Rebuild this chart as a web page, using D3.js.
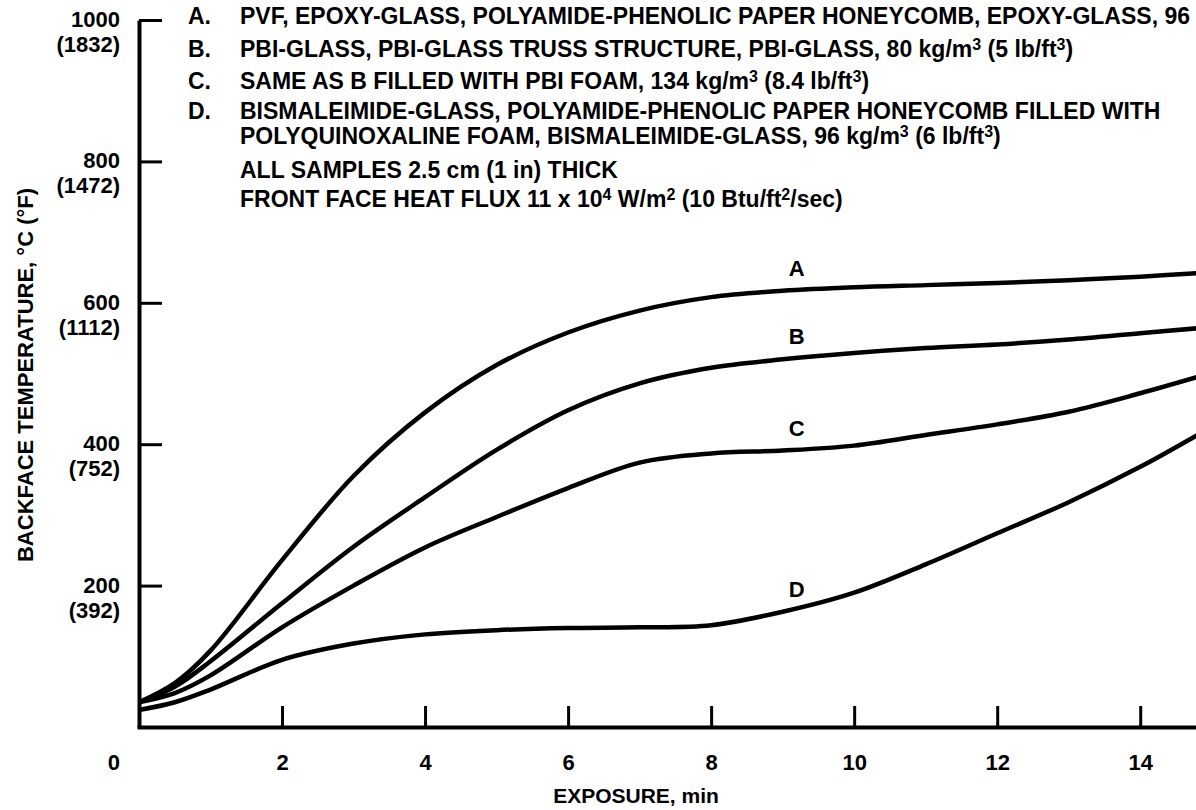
<!DOCTYPE html>
<html>
<head>
<meta charset="utf-8">
<script src="https://cdn.jsdelivr.net/npm/d3@7"></script>
<style>
  body { margin: 0; background: #fff; }
  svg { display: block; font-family: 'Liberation Sans', Arial, sans-serif; font-weight: bold; }
</style>
</head>
<body>
<svg></svg>
<script>
// exposure time, min
const minutes = [0, 0.5, 1, 2, 3, 4, 5, 6, 7, 8, 9, 10, 11, 12, 13, 14, 14.8]

// backface temperature, deg C
const seriesA = [35, 62, 108, 236, 355, 445, 512, 558, 589, 608, 617, 622, 625, 628, 632, 637, 642]
const seriesB = [35, 57, 93, 175, 255, 325, 392, 448, 486, 508, 520, 529, 536, 541, 548, 557, 564]
const seriesC = [35, 48, 73, 141, 200, 254, 297, 338, 374, 387, 391, 398, 413, 428, 446, 472, 495]
const seriesD = [24, 35, 53, 95, 118, 131, 137, 140, 141, 144, 163, 190, 230, 274, 318, 368, 413]
const seriesNames = ['A', 'B', 'C', 'D']

const yTicksC = [200, 400, 600, 800, 1000]
const yTicksF = ['(392)', '(752)', '(1112)', '(1472)', '(1832)']
const xTicks = [2, 4, 6, 8, 10, 12, 14]

const legendKeys = ['A.', 'B.', 'C.', 'D.', '', '', '']
const legendText = [
  'PVF, EPOXY-GLASS, POLYAMIDE-PHENOLIC PAPER HONEYCOMB, EPOXY-GLASS, 96 kg/m^3 (6 lb/ft^3)',
  'PBI-GLASS, PBI-GLASS TRUSS STRUCTURE, PBI-GLASS, 80 kg/m^3 (5 lb/ft^3)',
  'SAME AS B FILLED WITH PBI FOAM, 134 kg/m^3 (8.4 lb/ft^3)',
  'BISMALEIMIDE-GLASS, POLYAMIDE-PHENOLIC PAPER HONEYCOMB FILLED WITH',
  'POLYQUINOXALINE FOAM, BISMALEIMIDE-GLASS, 96 kg/m^3 (6 lb/ft^3)',
  'ALL SAMPLES 2.5 cm (1 in) THICK',
  'FRONT FACE HEAT FLUX 11 x 10^4 W/m^2 (10 Btu/ft^2/sec)'
]

const width = 1196
const height = 810

const svg = d3.select('svg')
  .attr('width', width)
  .attr('height', height)

const x = d3.scaleLinear().domain([0, 14.78]).range([139, 1196])
const y = d3.scaleLinear().domain([0, 1000]).range([727, 20])

// y axis, ticks pointing inward
svg.append('g')
  .attr('transform', 'translate(139, 0)')
  .call(d3.axisLeft(y).tickValues(yTicksC).tickSize(-23).tickSizeOuter(0).tickFormat(''))
  .call(g => g.select('.domain').attr('stroke-width', 4))
  .call(g => g.selectAll('.tick line').attr('stroke-width', 3))

svg.selectAll('.ylab')
  .data(yTicksC)
  .enter().append('text')
  .attr('class', 'ylab')
  .attr('x', 120)
  .attr('y', d => y(d) + 7)
  .attr('text-anchor', 'end')
  .attr('font-size', 22)
  .text(d => d)

svg.selectAll('.ylabf')
  .data(yTicksF)
  .enter().append('text')
  .attr('class', 'ylabf')
  .attr('x', 120)
  .attr('y', (d, i) => y(yTicksC[i]) + 32)
  .attr('text-anchor', 'end')
  .attr('font-size', 22)
  .text(d => d)

// x axis
svg.append('g')
  .attr('transform', 'translate(0, 727)')
  .call(d3.axisBottom(x).tickValues(xTicks).tickSize(-21).tickSizeOuter(0))
  .call(g => g.select('.domain').attr('stroke-width', 4).attr('stroke-linecap', 'square'))
  .call(g => g.selectAll('.tick line').attr('stroke-width', 3))
  .call(g => g.selectAll('.tick text')
    .attr('y', 43)
    .attr('dy', 0)
    .attr('font-size', 22)
    .attr('font-family', null))

svg.append('text')
  .attr('x', 120)
  .attr('y', 770)
  .attr('text-anchor', 'end')
  .attr('font-size', 22)
  .text('0')

svg.append('text')
  .attr('x', 636)
  .attr('y', 803)
  .attr('text-anchor', 'middle')
  .attr('font-size', 21)
  .text('EXPOSURE, min')

svg.append('text')
  .attr('transform', 'translate(33, 375) rotate(-90)')
  .attr('text-anchor', 'middle')
  .attr('font-size', 22)
  .text('BACKFACE TEMPERATURE, °C (°F)')

// legend block
const legendY = [24, 57, 89, 119, 144, 178, 207]
const legend = svg.append('g').attr('font-size', 23)

legendText.forEach((line, i) => {
  legend.append('text')
    .attr('x', 188)
    .attr('y', legendY[i])
    .text(legendKeys[i])
  const t = legend.append('text')
    .attr('x', 240)
    .attr('y', legendY[i])
  let raised = false
  line.split(/\^(\d)/).forEach((part, j) => {
    const sup = j % 2 === 1
    const ts = t.append('tspan').text(part)
    if (sup) ts.attr('dy', -7).attr('font-size', 16)
    else if (raised) ts.attr('dy', 7)
    raised = sup
  })
})

// curves
const seriesData = [seriesA, seriesB, seriesC, seriesD]
const line = d3.line()
  .x((d, i) => x(minutes[i]))
  .y(d => y(d))
  .curve(d3.curveCatmullRom)

svg.selectAll('.curve')
  .data(seriesData)
  .enter().append('path')
  .attr('class', 'curve')
  .attr('fill', 'none')
  .attr('stroke', '#000')
  .attr('stroke-width', 4.5)
  .attr('d', line)

// curve labels, placed above each curve at 9 min
const labelIndex = minutes.indexOf(9)
svg.selectAll('.clab')
  .data(seriesData)
  .enter().append('text')
  .attr('class', 'clab')
  .attr('x', x(minutes[labelIndex]) + 14)
  .attr('y', d => y(d[labelIndex]) - 15)
  .attr('text-anchor', 'middle')
  .attr('font-size', 22)
  .text((d, i) => seriesNames[i])
</script>
</body>
</html>
